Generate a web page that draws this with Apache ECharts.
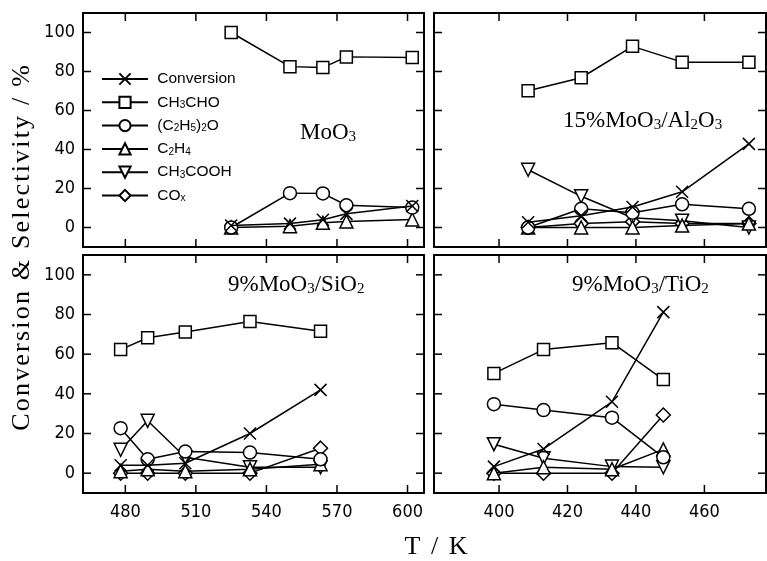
<!DOCTYPE html>
<html>
<head>
<meta charset="utf-8">
<script src="https://cdn.jsdelivr.net/npm/echarts@6/dist/echarts.min.js"></script>
<style>
  html, body { margin: 0; padding: 0; background: #fff; }
  #chart { width: 767px; height: 561px; }
</style>
</head>
<body>
<div id="chart"></div>
<script>
// temperatures (K) for each catalyst
const tempMoO3 = [525, 550, 564, 574, 602];
const tempAl2O3 = [408.5, 424, 439, 453.5, 473];
const tempSiO2 = [478, 489.5, 505.5, 533, 563];
const tempTiO2 = [398.5, 413, 433, 448];

// MoO3
const convMoO3 = [1, 2, 4, 7, 11];
const acetMoO3 = [100, 82.5, 82, 87.5, 87.2];
const etherMoO3 = [0, 17.6, 17.5, 11.4, 10.2];
const ethyleneMoO3 = [0, 0.7, 2.4, 3.1, 4.1];

// 15% MoO3/Al2O3
const convAl2O3 = [2.7, 6, 10.5, 18.3, 42.9];
const acetAl2O3 = [70.1, 76.8, 92.9, 84.8, 84.8];
const etherAl2O3 = [0, 9.6, 7.6, 11.9, 9.6];
const ethyleneAl2O3 = [0, 0, 0, 1, 2];
const aceticAl2O3 = [29.6, 16, 5, 3.5, 0];
const coxAl2O3 = [0, 2, 3, 2, 2];

// 9% MoO3/SiO2
const convSiO2 = [4, 4, 5, 20, 42];
const acetSiO2 = [62.3, 68.3, 71.2, 76.5, 71.5];
const etherSiO2 = [22.7, 7, 10.9, 10.4, 7];
const ethyleneSiO2 = [1, 2, 1, 2, 4.5];
const aceticSiO2 = [11.8, 26.4, 8, 3, 3];
const coxSiO2 = [0, 0, 0, 0, 12.6];

// 9% MoO3/TiO2
const convTiO2 = [3.3, 12.2, 36, 81.2];
const acetTiO2 = [50.3, 62.3, 65.8, 47.2];
const etherTiO2 = [34.8, 31.8, 28, 8];
const ethyleneTiO2 = [0, 3, 2, 12];
const aceticTiO2 = [14.6, 7.5, 3.3, 3];
const coxTiO2 = [0, 0, 0, 29.3];

// axis ticks
const yTicks = [0, 20, 40, 60, 80, 100];
const xTicksLeft = [480, 510, 540, 570, 600];
const xTicksRight = [400, 420, 440, 460];

const names = ['Conversion', 'CH3CHO', '(C2H5)2O', 'C2H4', 'CH3COOH', 'COx'];
const legendRich = {
  'Conversion': 'Conversion',
  'CH3CHO': 'CH{s|3}CHO',
  '(C2H5)2O': '(C{s|2}H{s|5}){s|2}O',
  'C2H4': 'C{s|2}H{s|4}',
  'CH3COOH': 'CH{s|3}COOH',
  'COx': 'CO{s|x}'
};

const markers = {
  'Conversion': { symbol: 'path://M0,0L10,10M10,0L0,10', symbolSize: 12, symbolRotate: 0 },
  'CH3CHO': { symbol: 'rect', symbolSize: 12, symbolRotate: 0 },
  '(C2H5)2O': { symbol: 'circle', symbolSize: 13, symbolRotate: 0 },
  'C2H4': { symbol: 'triangle', symbolSize: 13, symbolRotate: 0 },
  'CH3COOH': { symbol: 'triangle', symbolSize: 13, symbolRotate: 180 },
  'COx': { symbol: 'diamond', symbolSize: 14, symbolRotate: 0 }
};

const pairs = (xs, ys) => ys.map((v, i) => [xs[i], v]);

const panels = [
  { temps: tempMoO3, data: [convMoO3, acetMoO3, etherMoO3, ethyleneMoO3, null, null] },
  { temps: tempAl2O3, data: [convAl2O3, acetAl2O3, etherAl2O3, ethyleneAl2O3, aceticAl2O3, coxAl2O3] },
  { temps: tempSiO2, data: [convSiO2, acetSiO2, etherSiO2, ethyleneSiO2, aceticSiO2, coxSiO2] },
  { temps: tempTiO2, data: [convTiO2, acetTiO2, etherTiO2, ethyleneTiO2, aceticTiO2, coxTiO2] }
];

const grids = [
  { left: 83, top: 13, width: 341, height: 234 },
  { left: 434, top: 13, width: 332, height: 234 },
  { left: 83, top: 255, width: 341, height: 238 },
  { left: 434, top: 255, width: 332, height: 238 }
];

const tickFont = '"DejaVu Sans Condensed", "Liberation Sans Narrow", "Liberation Sans", sans-serif';
const serif = '"Liberation Serif", "DejaVu Serif", serif';
const TICK = 8;
const Y_RANGE = [-10, 110];

const xRange = i => (i % 2 === 0 ? [462, 607] : [381, 478]);
const xTickVals = i => (i % 2 === 0 ? xTicksLeft : xTicksRight);

// frame axes on all four sides of each panel
const xAxes = [];
const yAxes = [];
const frameLine = { show: true, onZero: false, lineStyle: { color: '#000', width: 2 } };
grids.forEach((g, i) => {
  const isLeft = i % 2 === 0;
  const isBottom = i >= 2;
  const xr = xRange(i);
  const xt = xTickVals(i);
  const base = { gridIndex: i, type: 'value', axisLine: frameLine, axisTick: { show: false }, splitLine: { show: false } };
  xAxes.push(Object.assign({}, base, {
    min: xr[0], max: xr[1], position: 'bottom',
    axisLabel: { show: isBottom, customValues: xt, color: '#000', fontSize: 18, fontFamily: tickFont, margin: 10 }
  }));
  xAxes.push(Object.assign({}, base, { min: xr[0], max: xr[1], position: 'top', axisLabel: { show: false } }));
  yAxes.push(Object.assign({}, base, {
    min: Y_RANGE[0], max: Y_RANGE[1], position: 'left',
    axisLabel: { show: isLeft, customValues: yTicks, color: '#000', fontSize: 18, fontFamily: tickFont, margin: 8 }
  }));
  yAxes.push(Object.assign({}, base, { min: Y_RANGE[0], max: Y_RANGE[1], position: 'right', axisLabel: { show: false } }));
});

const series = [];
panels.forEach((p, i) => {
  p.data.forEach((vals, k) => {
    if (!vals) return;
    const m = markers[names[k]];
    series.push({
      name: names[k],
      type: 'line',
      xAxisIndex: 2 * i,
      yAxisIndex: 2 * i,
      data: pairs(p.temps, vals),
      symbol: m.symbol,
      symbolSize: m.symbolSize,
      symbolRotate: m.symbolRotate,
      showAllSymbol: true,
      lineStyle: { color: '#000', width: 1.5 },
      itemStyle: { color: '#fff', borderColor: '#000', borderWidth: 1.5 },
      emphasis: { disabled: true },
      z: 2 + (5 - k)
    });
  });
});

// spread letters a little, like the scanned original
const spaced = str => str.split('').map(c => '{p|' + c + '}').join('');

const panelLabel = (x, y, text) => ({
  type: 'text', left: x, top: y,
  style: {
    text: text, fill: '#000', font: '23px ' + serif,
    rich: {
      n: { fontSize: 23, fontFamily: serif, fill: '#000' },
      s: { fontSize: 15, fontFamily: serif, fill: '#000', verticalAlign: 'bottom', padding: [9, 0, 0, 0] }
    }
  }
});

const texts = [
  panelLabel(300, 121, '{n|MoO}{s|3}'),
  panelLabel(563, 109, '{n|15%MoO}{s|3}{n|/Al}{s|2}{n|O}{s|3}'),
  panelLabel(228, 273, '{n|9%MoO}{s|3}{n|/SiO}{s|2}'),
  panelLabel(572, 273, '{n|9%MoO}{s|3}{n|/TiO}{s|2}'),
  {
    type: 'text', x: 436, y: 547,
    style: {
      text: spaced('T / K'), fill: '#000', textAlign: 'center', textVerticalAlign: 'middle',
      rich: { p: { fontSize: 26, fontFamily: serif, fill: '#000', padding: [0, 1] } }
    }
  },
  {
    type: 'text', x: 22, y: 248, rotation: Math.PI / 2,
    style: {
      text: spaced('Conversion & Selectivity / %'), fill: '#000', textAlign: 'center', textVerticalAlign: 'middle',
      rich: { p: { fontSize: 26, fontFamily: serif, fill: '#000', padding: [0, 1.1] } }
    }
  }
];

const chart = echarts.init(document.getElementById('chart'), null, { renderer: 'canvas' });
chart.setOption({
  backgroundColor: '#fff',
  animation: false,
  grid: grids,
  xAxis: xAxes,
  yAxis: yAxes,
  legend: {
    data: names,
    orient: 'vertical',
    left: 96,
    top: 66,
    itemWidth: 46,
    itemHeight: 14,
    itemGap: 7.3,
    selectedMode: false,
    formatter: name => ' ' + legendRich[name],
    textStyle: {
      color: '#000', fontSize: 15.5, fontFamily: '"Liberation Sans", Arial, sans-serif',
      rich: { s: { fontSize: 10, fontFamily: '"Liberation Sans", Arial, sans-serif', verticalAlign: 'bottom', padding: [6, 0, 0, 0] } }
    }
  },
  graphic: texts,
  series: series
});

// inward ticks on all four sides; positions come from the axes' scales,
// falling back to the same linear mapping if the lookup is not available
const toPx = (finder, v, lo, hi, p0, p1) => {
  const p = chart.convertToPixel(finder, v);
  return Number.isFinite(p) ? p : p0 + (v - lo) / (hi - lo) * (p1 - p0);
};
const seg = (x1, y1, x2, y2) => ({
  type: 'line', silent: true, z: 100, zlevel: 1,
  shape: { x1: x1, y1: y1, x2: x2, y2: y2 },
  style: { stroke: '#000', lineWidth: 1.5 }
});
const tickMarks = [];
grids.forEach((g, i) => {
  const bottom = g.top + g.height;
  const right = g.left + g.width;
  const xr = xRange(i);
  xTickVals(i).forEach(v => {
    const px = toPx({ xAxisIndex: 2 * i }, v, xr[0], xr[1], g.left, right);
    tickMarks.push(seg(px, bottom, px, bottom - TICK));
    tickMarks.push(seg(px, g.top, px, g.top + TICK));
  });
  yTicks.forEach(v => {
    const py = toPx({ yAxisIndex: 2 * i }, v, Y_RANGE[0], Y_RANGE[1], bottom, g.top);
    tickMarks.push(seg(g.left, py, g.left + TICK, py));
    tickMarks.push(seg(right, py, right - TICK, py));
  });
});
chart.setOption({ graphic: texts.concat(tickMarks) });
</script>
</body>
</html>
